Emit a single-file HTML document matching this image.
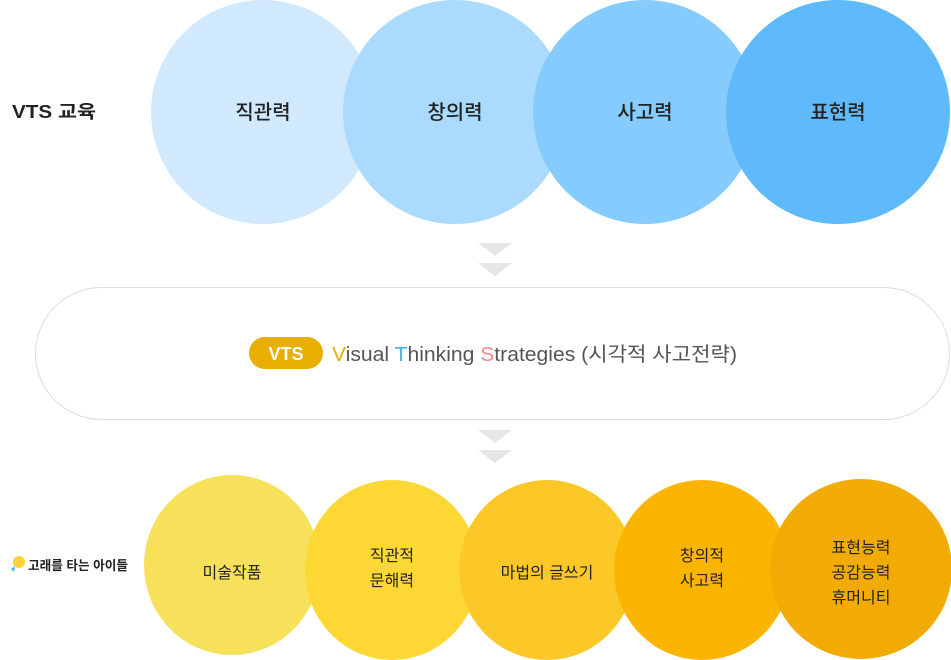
<!DOCTYPE html>
<html><head><meta charset="utf-8"><style>
body{margin:0;background:#fff;width:951px;height:660px;overflow:hidden;position:relative;font-family:"Liberation Sans","Noto Sans CJK KR",sans-serif;}
</style></head><body>
<svg width="951" height="660" style="position:absolute;left:0;top:0" font-family="'Liberation Sans','Noto Sans CJK KR',sans-serif">
<circle cx="263" cy="112" r="112" fill="#d0e9fd"/>
<circle cx="455" cy="112" r="112" fill="#aadafd"/>
<circle cx="645" cy="112" r="112" fill="#86cbfd"/>
<circle cx="838" cy="112" r="112" fill="#5fbafc"/>
<g font-size="20" fill="#222" text-anchor="middle" font-weight="500">
<text x="263" y="119">직관력</text><text x="455" y="119">창의력</text><text x="645" y="119">사고력</text><text x="838" y="119">표현력</text>
</g>
<text x="12" y="118" font-size="18" font-weight="bold" fill="#222" textLength="84" lengthAdjust="spacingAndGlyphs">VTS 교육</text>
<g fill="#e6e6e6">
<polygon points="478,243 512,243 495,256"/><polygon points="478,263 512,263 495,276"/>
<polygon points="478,430 512,430 495,443"/><polygon points="478,450 512,450 495,463"/>
</g>
<rect x="35.5" y="287.5" width="914" height="132" rx="66" fill="#fff" stroke="#ddd"/>
<rect x="249" y="337" width="74" height="32" rx="16" fill="#e8ae00"/>
<text x="286" y="360" font-size="18" font-weight="bold" fill="#fff" text-anchor="middle">VTS</text>
<text x="332" y="361" font-size="20" fill="#555" textLength="405" lengthAdjust="spacingAndGlyphs"><tspan fill="#e8ae00">V</tspan>isual <tspan fill="#4db3f8">T</tspan>hinking <tspan fill="#f58a8a">S</tspan>trategies (시각적 사고전략)</text>
<ellipse cx="232" cy="565" rx="88" ry="90" fill="#f8e15a"/>
<ellipse cx="392" cy="570" rx="87" ry="90" fill="#fdd835"/>
<ellipse cx="547" cy="570" rx="88" ry="90" fill="#fbc828"/>
<ellipse cx="702" cy="570" rx="88" ry="90" fill="#fbb400"/>
<ellipse cx="861" cy="569" rx="91" ry="90" fill="#f2ab04"/>
<g font-size="16" fill="#222" text-anchor="middle">
<text x="232" y="578">미술작품</text>
<text x="392" y="561">직관적</text><text x="392" y="586">문해력</text>
<text x="547" y="578">마법의 글쓰기</text>
<text x="702" y="561">창의적</text><text x="702" y="586">사고력</text>
<text x="861" y="553">표현능력</text><text x="861" y="578">공감능력</text><text x="861" y="603">휴머니티</text>
</g>
<circle cx="19" cy="562" r="6" fill="#fbd33a"/>
<path d="M11,569 L15,566 L14,572 Z" fill="#4db3f8"/>
<text x="28" y="570" font-size="13" fill="#222" font-weight="bold" textLength="100" lengthAdjust="spacingAndGlyphs">고래를 타는 아이들</text>
</svg>
</body></html>
